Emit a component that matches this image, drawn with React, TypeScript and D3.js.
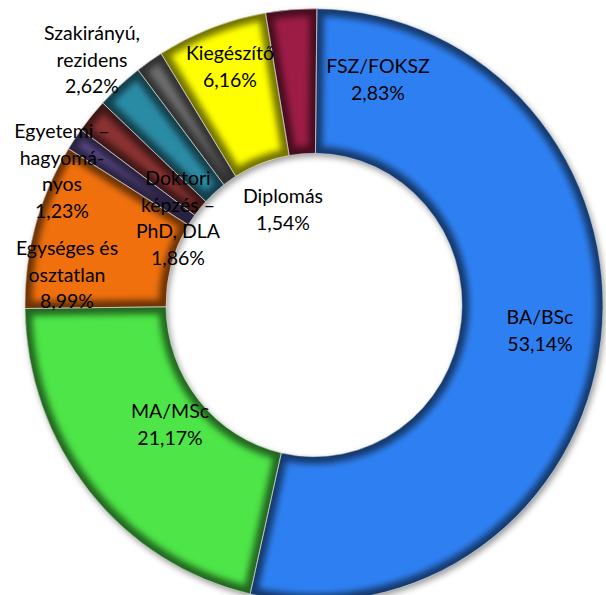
import * as d3 from 'd3';
import React from 'react';

// slices, clockwise from 12 o'clock
const categories = [
  'BA/BSc',
  'MA/MSc',
  'Egységes és osztatlan',
  'Egyetemi – hagyományos',
  'Doktori képzés – PhD, DLA',
  'Szakirányú, rezidens',
  'Diplomás',
  'Kiegészítő',
  'FSZ/FOKSZ',
];
const shares = [53.14, 21.17, 8.99, 1.23, 1.86, 2.62, 1.54, 6.16, 2.83];
const colors = [
  '#2f80f2',
  '#4ee546',
  '#ef7010',
  '#5b4b8c',
  '#8b3232',
  '#2b8ba5',
  '#6e6e6e',
  '#ffff00',
  '#9c1f45',
];
const labelLines = [
  ['BA/BSc'],
  ['MA/MSc'],
  ['Egységes és', 'osztatlan'],
  ['Egyetemi –', 'hagyomá-', 'nyos'],
  ['Doktori', 'képzés –', 'PhD, DLA'],
  ['Szakirányú,', 'rezidens'],
  ['Diplomás'],
  ['Kiegészítő'],
  ['FSZ/FOKSZ'],
];
// label anchor (centre of first line), placed by hand like in the original
const labelAt = [
  [540, 316],
  [170, 410],
  [67, 247],
  [62, 130],
  [178, 177],
  [92, 32],
  [283, 195],
  [230, 52],
  [378, 65],
];

const width = 606;
const height = 595;
const cx = 314;
const cy = 305;
const outerR = 289;
const innerR = 148;
const lineH = 26.5;

const fmt = (v: number) => d3.format('.2f')(v).replace('.', ',') + '%';

export default function App() {
  const pie = d3
    .pie<number>()
    .sort(null)
    .startAngle(0.01)
    .endAngle(0.01 + 2 * Math.PI);
  const arcs = pie(shares);
  const arcGen = d3
    .arc<d3.PieArcDatum<number>>()
    .innerRadius(innerR)
    .outerRadius(outerR);

  return (
    <svg
      width={width}
      height={height}
      style={{ position: 'absolute', left: 0, top: 0, background: '#fff' }}
      fontFamily="Lato, 'Open Sans', sans-serif"
    >
      <defs>
        {arcs.map((a, i) => (
          <clipPath id={`clip${i}`} key={i}>
            <path d={arcGen(a) || ''} />
          </clipPath>
        ))}
        <filter id="soft" x="-20%" y="-20%" width="140%" height="140%">
          <feGaussianBlur stdDeviation="3" />
        </filter>
        <filter id="shadow" x="-10%" y="-10%" width="125%" height="125%">
          <feDropShadow dx="2" dy="3" stdDeviation="3" floodColor="#000" floodOpacity="0.4" />
        </filter>
      </defs>

      <g transform={`translate(${cx},${cy}) scale(1,1.025)`}>
        <g filter="url(#shadow)">
          {arcs.map((a, i) => (
            <path key={i} d={arcGen(a) || ''} fill={colors[i]} />
          ))}
        </g>
        {arcs.map((a, i) => (
          <g key={i} clipPath={`url(#clip${i})`}>
            <path
              d={arcGen(a) || ''}
              fill="none"
              stroke="#000"
              strokeOpacity={0.55}
              strokeWidth={14}
              filter="url(#soft)"
            />
          </g>
        ))}
        {arcs.map((a, i) => (
          <path
            key={i}
            d={arcGen(a) || ''}
            fill="none"
            stroke="#d8d8d8"
            strokeOpacity={0.7}
            strokeWidth={0.8}
          />
        ))}
      </g>

      {labelLines.map((lines, i) => (
        <text
          key={categories[i]}
          x={labelAt[i][0]}
          y={labelAt[i][1]}
          textAnchor="middle"
          dominantBaseline="central"
          fontSize={19.5}
          fill="#000"
        >
          {[...lines, fmt(shares[i])].map((t, j) => (
            <tspan key={j} x={labelAt[i][0]} dy={j === 0 ? 0 : lineH}>
              {t}
            </tspan>
          ))}
        </text>
      ))}
    </svg>
  );
}
